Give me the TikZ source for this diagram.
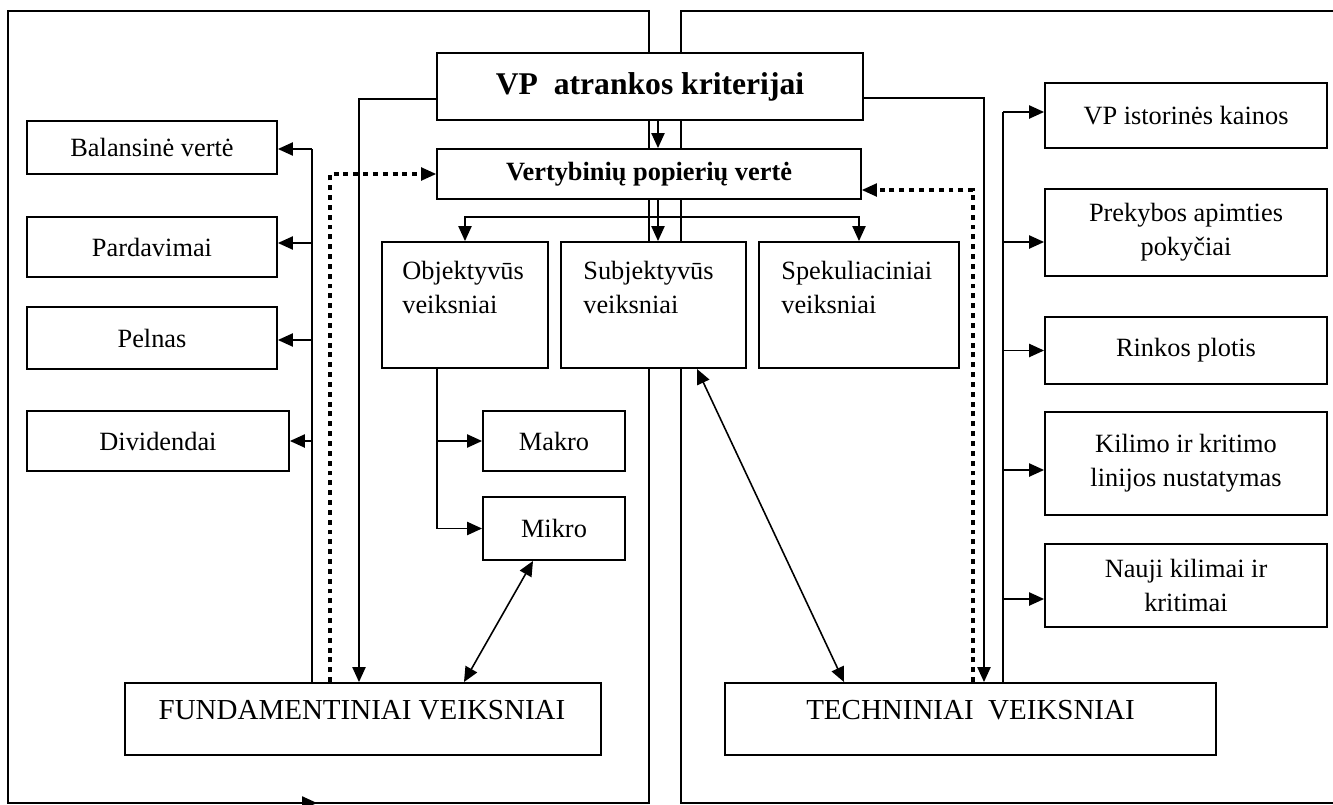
\documentclass[tikz,border=0pt]{standalone}
\usepackage{fontspec}
\setmainfont{Liberation Serif}
\usepackage{tikz}
\usetikzlibrary{arrows.meta, positioning, calc}

\begin{document}
\begin{tikzpicture}[x=0.02cm, y=-0.02cm,
  font=\fontsize{15}{19.5}\selectfont,
  fbox/.style={draw, line width=1.1pt, fill=white, inner sep=0pt, align=center},
  txt/.style={inner sep=0pt, align=left},
  arr/.style={-{Triangle[length=8.5pt,width=7.5pt]}, line width=0.9pt},
  arrb/.style={{Triangle[length=8.5pt,width=7.5pt]}-{Triangle[length=8.5pt,width=7.5pt]}, line width=0.9pt},
  dots/.style={line width=2.6pt, dash pattern=on 2.8pt off 2.8pt}]

\clip (0,0) rectangle (1333,805);

% frames
\draw[line width=0.9pt] (8,11) rectangle (649,803);
\draw[line width=0.9pt] (1340,11) -- (681,11) -- (681,803) -- (1340,803);
\draw[arr] (290,803) -- (317,803);

% top
\node[fbox, minimum width=8.52cm, minimum height=1.34cm, font=\fontsize{18}{22}\selectfont\bfseries] (title) at (650,86.5) {VP\ \ atrankos kriterijai};
\node[fbox, minimum width=8.48cm, minimum height=1.0cm, font=\fontsize{15}{19.5}\selectfont\bfseries] (vert) at (649,174) {Vertybinių popierių vertė};

% left column
\node[fbox, minimum width=5cm, minimum height=1.06cm] (bal) at (152,147.5) {Balansinė vertė};
\node[fbox, minimum width=5cm, minimum height=1.2cm] (pard) at (152,247) {Pardavimai};
\node[fbox, minimum width=5cm, minimum height=1.24cm] (peln) at (152,338) {Pelnas};
\node[fbox, minimum width=5.24cm, minimum height=1.2cm] (divi) at (158,441) {Dividendai};

% middle
\node[fbox, minimum width=3.32cm, minimum height=2.52cm] (obj) at (465,305) {};
\node[txt, anchor=west] (objt) at (402,287.5) {Objektyvūs\\veiksniai};
\node[fbox, minimum width=3.7cm, minimum height=2.52cm] (subj) at (653.5,305) {};
\node[txt, anchor=west] (subjt) at (583,287.5) {Subjektyvūs\\veiksniai};
\node[fbox, minimum width=4cm, minimum height=2.52cm] (spek) at (859,305) {};
\node[txt, anchor=west] (spekt) at (781,287.5) {Spekuliaciniai\\veiksniai};
\node[fbox, minimum width=2.84cm, minimum height=1.2cm] (makro) at (554,441) {Makro};
\node[fbox, minimum width=2.84cm, minimum height=1.26cm] (mikro) at (554,528.5) {Mikro};

% bottom
\node[fbox, minimum width=9.52cm, minimum height=1.44cm] (fund) at (363,719) {};
\node[txt, font=\fontsize{16.5}{20}\selectfont] (fundt) at (362,710) {FUNDAMENTINIAI VEIKSNIAI};
\node[fbox, minimum width=9.82cm, minimum height=1.44cm] (tech) at (970.5,719) {};
\node[txt, font=\fontsize{16.5}{20}\selectfont] (techt) at (970.5,710) {TECHNINIAI\ \ VEIKSNIAI};

% right column
\node[fbox, minimum width=5.64cm, minimum height=1.3cm] (ist) at (1186,115.5) {VP istorinės kainos};
\node[fbox, minimum width=5.64cm, minimum height=1.74cm] (prek) at (1186,232.5) {Prekybos apimties\\pokyčiai};
\node[fbox, minimum width=5.64cm, minimum height=1.34cm] (rink) at (1186,350.5) {Rinkos plotis};
\node[fbox, minimum width=5.64cm, minimum height=2.06cm] (kil) at (1186,463.5) {Kilimo ir kritimo\\linijos nustatymas};
\node[fbox, minimum width=5.64cm, minimum height=1.66cm] (nauj) at (1186,585.5) {Nauji kilimai ir\\kritimai};

\coordinate (cx) at (658,0);
\coordinate (br) at (0,217);
\coordinate (ox) at (437,0);
\coordinate (lbus) at (312,149);
\coordinate (rbus) at (1003,112);
\coordinate (lline) at (359,99);
\coordinate (rline) at (984,98);
\coordinate (ldot) at (330,174);
\coordinate (rdot) at (973,190);

% centre
\draw[arr] (title.south -| cx) -- (vert.north -| cx);
\draw[arr] (vert.south -| cx) -- (subj.north -| cx);
\draw[arr] (br -| cx) -| (obj.north);
\draw[arr] (br -| cx) -| (spek.north);
\draw[arr] (obj.south -| ox) |- (mikro.west);
\draw[arr] (makro.west -| ox) -- (makro.west);
\draw[arrb] ([xshift=-0.42cm]mikro.south) -- ([xshift=2.02cm]fund.north);
\draw[arrb] ([xshift=0.87cm]subj.south) -- ([xshift=-2.53cm]tech.north);

% left side
\draw[line width=0.9pt] (lbus) -- (lbus |- fund.north);
\draw[arr] (lbus) -- (lbus -| bal.east);
\draw[arr] ([yshift=0.08cm]pard.east -| lbus) -- ([yshift=0.08cm]pard.east);
\draw[arr] ([yshift=-0.04cm]peln.east -| lbus) -- ([yshift=-0.04cm]peln.east);
\draw[arr] (divi.east -| lbus) -- (divi.east);
\draw[arr] (lline -| title.west) -- (lline) -- (lline |- fund.north);
\draw[dots] (ldot |- fund.north) -- (ldot) -- ([xshift=-0.2cm]vert.west);
\draw[arr] ([xshift=-0.2cm]vert.west) -- (vert.west);

% right side
\draw[line width=0.9pt] (rbus) -- (rbus |- tech.north);
\draw[arr] (rbus) -- (rbus -| ist.west);
\draw[arr] ([yshift=-0.19cm]prek.west -| rbus) -- ([yshift=-0.19cm]prek.west);
\draw[arr] (rink.west -| rbus) -- (rink.west);
\draw[arr] ([yshift=-0.13cm]kil.west -| rbus) -- ([yshift=-0.13cm]kil.west);
\draw[arr] ([yshift=-0.27cm]nauj.west -| rbus) -- ([yshift=-0.27cm]nauj.west);
\draw[arr] (rline -| title.east) -- (rline) -- (rline |- tech.north);
\draw[dots] (rdot |- tech.north) -- (rdot) -- ([xshift=0.2cm]rdot -| vert.east);
\draw[arr] ([xshift=0.2cm]rdot -| vert.east) -- (rdot -| vert.east);

\end{tikzpicture}
\end{document}
